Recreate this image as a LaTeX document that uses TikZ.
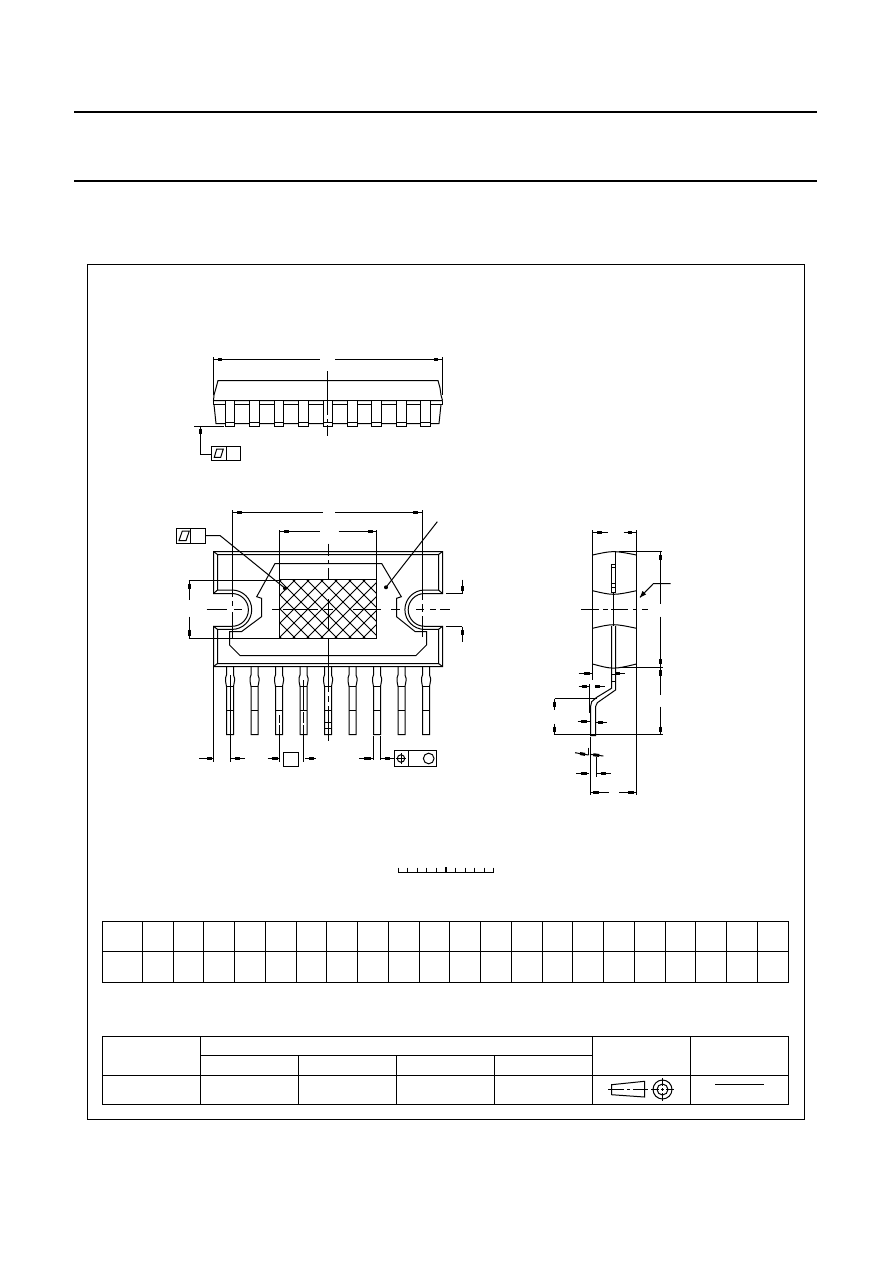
\documentclass[tikz,border=0pt]{standalone}
\tikzset{
  ln/.style={line width=0.75pt,line cap=butt,line join=miter},
  thin line/.style={line width=0.7pt},
  hd/.style={line width=2.25pt},
  rule/.style={line width=1.5pt}
}
\begin{document}
\begin{tikzpicture}[x=0.75pt,y=-0.75pt,ln]
\useasboundingbox (0,0) rectangle (892,1263);
\fill[white] (0,0) rectangle (892,1263);
% page rules and frame
\draw[rule] (74,112) -- (817,112);
\draw[rule] (74,181) -- (817,181);
\draw (87.5,264.5) rectangle (804.5,1119.5);

% ===== top view =====
\draw (213.5,357) -- (213.5,395);
\draw (442.5,357) -- (442.5,395);
\draw (213.5,359.5) -- (320,359.5);
\draw (335,359.5) -- (442.5,359.5);
\draw[hd] (218,359.5) -- (222,359.5);
\draw[hd] (434,359.5) -- (438,359.5);
\draw (214,395) -- (216,388) -- (218,380.5) -- (438,380.5) -- (440,388) -- (441,395) -- (442.5,400.5);
\draw (214,395) -- (213.5,400.5) -- (442.5,400.5);
\draw (213.5,400.5) -- (213.5,404.5) -- (442.5,404.5) -- (442.5,400.5);
\draw (214,404.5) -- (216,423.5) -- (439,423.5) -- (441,404.5);
\foreach \a/\b in {225.5/234.5,249.5/259.5,274.5/283.5,298.5/308.5,323.5/332.5,347.5/357.5,371.5/381.5,396.5/406.5,420.5/430.5}{
  \fill[white] (\a,400.5) rectangle (\b,426.5);
  \draw (\a,400.5) rectangle (\b,426.5);
  \draw (\a,422.5) -- (\b,422.5);
}
\draw (327.5,371) -- (327.5,415);
\draw (327.5,419) -- (327.5,422);
\draw (327.5,425) -- (327.5,436);
\draw (194,426.5) -- (224,426.5);
\draw (200.5,426.5) -- (200.5,454.5) -- (211.5,454.5);
\draw[hd] (200.5,428.5) -- (200.5,434);
\draw (211.5,446.5) rectangle (240.5,460.5);
\draw (226.5,446.5) -- (226.5,460.5);
\draw (214.3,457.3) -- (216.7,449) -- (223.3,449) -- (220.7,457.3) -- cycle;

% ===== plan view: body =====
\draw (213.5,551.5) -- (442.5,551.5) -- (442.5,593.5) -- (424.6,593.5)
  arc[start angle=90,end angle=270,radius=12.3pt] -- (442.5,626.3) -- (442.5,666.5) -- (213.5,666.5) -- (213.5,626.3) -- (232,626.3)
  arc[start angle=-90,end angle=90,radius=12.3pt] -- (213.5,593.5) -- cycle;
\draw (217.5,554.5) -- (438.5,554.5) -- (438.5,590) -- (424.6,590)
  arc[start angle=90,end angle=270,radius=14.775pt] -- (438.5,629.4) -- (438.5,663.5) -- (217.5,663.5) -- (217.5,629.4) -- (232,629.4)
  arc[start angle=-90,end angle=90,radius=14.775pt] -- (217.5,590) -- cycle;
\foreach \a/\b/\c/\d in {213.5/551.5/217.5/554.5,442.5/551.5/438.5/554.5,213.5/666.5/217.5/663.5,442.5/666.5/438.5/663.5,213.5/593.5/217.5/590,442.5/593.5/438.5/590,213.5/626.3/217.5/629.4,442.5/626.3/438.5/629.4}{
  \draw (\a,\b) -- (\c,\d);
}
% heat spreader outline
\draw (275,563.5) -- (381.7,563.5) -- (401.3,596.7) -- (396.5,598.3) -- (396.5,616.7) -- (415,631.5) -- (426.5,631.5) -- (426.5,645) -- (416,655.5) -- (240,655.5) -- (229.5,645) -- (229.5,631.5) -- (241.7,631.5) -- (261.5,616.7) -- (261.5,598.3) -- (256.7,596.7) -- cycle;
% hatched area
\begin{scope}
\clip (279.5,579.5) rectangle (376.5,638.5);
\fill[white] (279.5,579.5) rectangle (376.5,638.5);
\foreach \k in {-11,...,11}{
  \draw[thin line] ({322+\k*14-60},549) -- ({322+\k*14+60},669);
  \draw[thin line] ({322+\k*14+60},549) -- ({322+\k*14-60},669);
}
\end{scope}
\draw (279.5,579.5) rectangle (376.5,638.5);
% extension and dimension lines
\draw (232.5,510) -- (232.5,597);
\draw (232.5,601) -- (232.5,606);
\draw (232.5,612) -- (232.5,638);
\draw (422.5,510) -- (422.5,600);
\draw (422.5,604) -- (422.5,612);
\draw (422.5,616) -- (422.5,637);
\draw (232.5,512.5) -- (322.5,512.5);
\draw (335,512.5) -- (422.5,512.5);
\draw[hd] (237,512.5) -- (242,512.5);
\draw[hd] (413,512.5) -- (418,512.5);
\draw (279.5,530) -- (279.5,579.5);
\draw (376.5,530) -- (376.5,579.5);
\draw (279.5,531.5) -- (319.5,531.5);
\draw (338.5,531.5) -- (376.5,531.5);
\draw[hd] (284,531.5) -- (289,531.5);
\draw[hd] (368,531.5) -- (373,531.5);
\draw (188.5,580.5) -- (279.5,580.5);
\draw (188.5,638.5) -- (279.5,638.5);
\draw (189.5,580.5) -- (189.5,600);
\draw (189.5,616.7) -- (189.5,638.5);
\draw[hd] (189.5,583.5) -- (189.5,589);
\draw[hd] (189.5,629.5) -- (189.5,636);
\draw (446,593.5) -- (461.5,593.5);
\draw (446,626.5) -- (461.5,626.5);
\draw (462.5,579.5) -- (462.5,593.5);
\draw (462.5,626.5) -- (462.5,641.5);
\draw[hd] (462.5,586) -- (462.5,591);
\draw[hd] (462.5,630) -- (462.5,635);
% centre lines
\foreach \a/\b in {206.5/227,234/242,272/279.5,283/318,324/333,353/381,391/400,416/424,430/436,440/449.5}{
  \draw (\a,609.5) -- (\b,609.5);
}
\foreach \a/\b in {543.5/556,560/564,568/579.5,599/630,638.5/672}{
  \draw (328.5,\a) -- (328.5,\b);
}
% leaders
\draw (437.3,521.7) -- (386,587.3);
\fill (386,587.3) circle[radius=1.5pt];
\draw (176.5,528.5) rectangle (205.5,543.5);
\draw (190.5,528.5) -- (190.5,543.5);
\draw (179,540.7) -- (182.3,531) -- (189.3,531) -- (186,540.7) -- cycle;
\draw (205.5,535.5) -- (220,535.5) -- (285,588.3);
\fill (285,588.3) circle[radius=1.5pt];

% ===== pins =====
\foreach \c in {230,254.5,279,303.5,328,352.5,377,401.5,426}{
  \draw ({\c-3.5},667) -- ({\c-3.5},675) -- ({\c-4.5},678) -- ({\c-4.5},681) -- ({\c-3.5},686.5) -- ({\c-3.5},734.5) -- ({\c+3.5},734.5) -- ({\c+3.5},686.5) -- ({\c+4.5},681) -- ({\c+4.5},678) -- ({\c+3.5},675) -- ({\c+3.5},667);
  \draw ({\c-3.5},686.5) -- ({\c+3.5},686.5);
  \draw ({\c-3.5},710.5) -- ({\c+3.5},710.5);
}
\draw (324.5,722.5) -- (331.5,722.5);
\draw (324.5,728.5) -- (331.5,728.5);
\foreach \a/\b in {672/692,696/702,706/741}{
  \draw (328.5,\a) -- (328.5,\b);
}
% pin dimensions
\draw (213.5,667) -- (213.5,761.5);
\draw (230.5,675) -- (230.5,761.5);
\draw (199,758.5) -- (213.5,758.5);
\draw (230.5,758.5) -- (245,758.5);
\draw[hd] (207,758.5) -- (212,758.5);
\draw[hd] (235,758.5) -- (239.5,758.5);
\draw (279.5,715) -- (279.5,723);
\draw (279.5,725) -- (279.5,761.5);
\draw (303.5,680) -- (303.5,710);
\draw (303.5,712) -- (303.5,723);
\draw (303.5,725) -- (303.5,761.5);
\draw (267.5,758.5) -- (279.5,758.5);
\draw (305,758.5) -- (316,758.5);
\draw[hd] (271.5,758.5) -- (277.5,758.5);
\draw[hd] (309,758.5) -- (314,758.5);
\draw (283.5,752.5) rectangle (298.5,766.5);
\draw (373.5,736) -- (373.5,760);
\draw (380.5,736) -- (380.5,760);
\draw (359,758.5) -- (373.5,758.5);
\draw (380.5,758.5) -- (394,758.5);
\draw[hd] (364,758.5) -- (370.5,758.5);
\draw[hd] (385,758.5) -- (390,758.5);
\draw (394.5,750.5) rectangle (436.5,766.5);
\draw (408.5,750.5) -- (408.5,766.5);
\draw (401,758.5) circle[radius=2.8pt];
\draw (395.7,758.5) -- (406.3,758.5);
\draw (401.5,753.4) -- (401.5,764);
\draw (428.7,758.5) circle[radius=4pt];

% ===== side view =====
\draw (592.5,530) -- (592.5,680);
\draw (636.5,530) -- (636.5,794.5);
\draw (592.5,532.5) -- (607.5,532.5);
\draw (623.5,532.5) -- (636.5,532.5);
\draw[hd] (597,532.5) -- (601.7,532.5);
\draw[hd] (627.7,532.5) -- (631.7,532.5);
\draw (592.5,555) .. controls (613.3,550.5) .. (636.5,555);
\draw (592.5,590.7) .. controls (613.3,595.5) .. (636.5,590.7);
\draw (592.5,628.3) .. controls (613.3,623.5) .. (636.5,628.3);
\draw (592.5,664) .. controls (613.3,669.5) .. (636.5,664);
\draw (611.5,564.5) rectangle (615.5,592.5);
\draw (611.5,567.5) -- (615.5,567.5);
\draw (611.5,583.5) -- (615.5,583.5);
\draw (611.5,587.5) -- (615.5,587.5);
\draw (615.5,552) -- (615.5,564.5);
\draw (613.5,592.5) -- (613.5,626);
\draw (611.5,626) -- (611.5,688.3) -- (596.7,697.3) -- (591.7,701.7) -- (590.5,706.7) -- (590.5,735.5) -- (595.5,735.5) -- (595.5,706.7) -- (597.3,702.7) -- (615.5,690) -- (615.5,626);
\draw (611.5,674.5) -- (615.5,674.5);
\draw (611.5,681.5) -- (615.5,681.5);
\draw (618.5,551.5) -- (661.5,551.5);
\draw (618.5,667.5) -- (663,667.5);
\draw (660.5,551.5) -- (660.5,603.5);
\draw (660.5,616.5) -- (660.5,695);
\draw (660.5,706.5) -- (660.5,734.5);
\foreach \a/\b in {555/560,659/664,670/676,726.7/731.7}{
  \draw[hd] (660.5,\a) -- (660.5,\b);
}
\draw (553.5,734.5) -- (662.5,734.5);
\draw (554.5,698.5) -- (596.5,698.5);
\draw (554.5,698.5) -- (554.5,710);
\draw (554.5,723.5) -- (554.5,734.5);
\draw[hd] (554.5,701.7) -- (554.5,707.3);
\draw[hd] (554.5,726.7) -- (554.5,731.7);
\draw (670.5,583.5) -- (653.5,583.5) -- (640,597.3);
\fill (640,597.3) -- (646,594.5) -- (642.5,591) -- cycle;
\foreach \a/\b in {581/599,603/608,611/628,633/637,642/648}{
  \draw (\a,609.5) -- (\b,609.5);
}
\draw (578.5,673.5) -- (592.5,673.5);
\draw (615.5,673.5) -- (625,673.5);
\draw[hd] (584.3,673.5) -- (590,673.5);
\draw[hd] (616,673.5) -- (620,673.5);
\draw (589.5,684) -- (589.5,713);
\draw (578.5,686.5) -- (589.5,686.5);
\draw (594.5,686.5) -- (605,686.5);
\draw[hd] (581.7,686.5) -- (587.3,686.5);
\draw[hd] (595,686.5) -- (600,686.5);
\draw (577.5,721.5) -- (589.5,721.5);
\draw (595.5,722.5) -- (606.5,722.5);
\draw[hd] (580.7,721.5) -- (586.7,721.5);
\draw[hd] (597.7,722.5) -- (603.3,722.5);
\draw (575,752.7) -- (588.5,755);
\draw (590,754.3) -- (603.3,756);
\draw[hd] (580,753.5) -- (585,754.4);
\draw[hd] (593.3,754.7) -- (599.3,755.5);
\draw (588.5,747.5) -- (588.5,755);
\draw (596.5,756.7) -- (596.5,776.5);
\draw (576,773.5) -- (589,773.5);
\draw (596.5,773.5) -- (610.5,773.5);
\draw[hd] (580.7,773.5) -- (586.7,773.5);
\draw[hd] (600.7,773.5) -- (605.7,773.5);
\draw (590.5,736.7) -- (590.5,794.5);
\draw (590.5,792.5) -- (609,792.5);
\draw (619,792.5) -- (636.5,792.5);
\draw[hd] (593.3,792.5) -- (599.3,792.5);
\draw[hd] (628.3,792.5) -- (634.3,792.5);

% ===== scale =====
\draw (398.5,872.5) -- (493.5,872.5);
\foreach \x in {398.5,407.5,417.5,426.5,436.5,455.5,465.5,474.5,484.5,493.5}{
  \draw (\x,867.5) -- (\x,872.5);
}
\draw[line width=1.5pt] (446,867) -- (446,872.5);

% ===== dimension table =====
\draw (102.5,921.5) rectangle (788.5,982.5);
\draw (102.5,951.5) -- (788.5,951.5);
\foreach \x in {142.5,173.5,203.5,234.5,265.5,296.5,326.5,357.5,388.5,419.5,449.5,480.5,511.5,542.5,572.5,603.5,634.5,665.5,695.5,726.5,757.5}{
  \draw (\x,921.5) -- (\x,982.5);
}

% ===== outline table =====
\draw (102.5,1036.5) rectangle (788.5,1104.5);
\draw (102.5,1075.5) -- (788.5,1075.5);
\draw (200.5,1055.5) -- (592.5,1055.5);
\foreach \x in {200.5,592.5,690.5}{
  \draw (\x,1036.5) -- (\x,1104.5);
}
\foreach \x in {298.5,396.5,494.5}{
  \draw (\x,1055.5) -- (\x,1104.5);
}
\draw (715,1084.5) -- (763.5,1084.5);
% projection symbol
\draw (644.5,1081.3) -- (611.5,1084.7) -- (611.5,1094.7) -- (644.5,1097) -- cycle;
\foreach \a/\b in {608/624,627/630,633/648}{
  \draw (\a,1089.5) -- (\b,1089.5);
}
\draw (662.5,1089.5) circle[radius=7.1pt];
\draw (662.5,1089.5) circle[radius=4.1pt];
\foreach \a/\b in {651/659,661/664,666/674}{
  \draw (\a,1089.5) -- (\b,1089.5);
}
\foreach \a/\b in {1078/1086,1088/1091,1093/1101}{
  \draw (662.5,\a) -- (662.5,\b);
}
\end{tikzpicture}
\end{document}
